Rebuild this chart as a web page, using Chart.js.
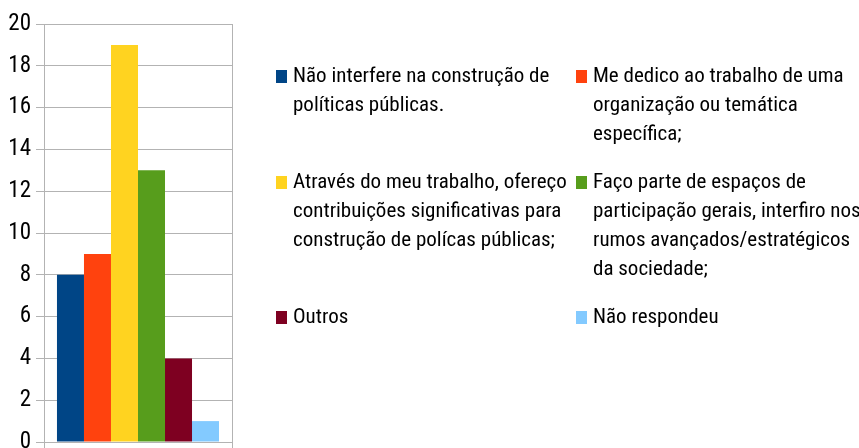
<!DOCTYPE html>
<html>
<head>
<meta charset="utf-8">
<script src="https://cdn.jsdelivr.net/npm/chart.js@4/dist/chart.umd.min.js"></script>
<style>
  html, body { margin: 0; padding: 0; background: #fff; overflow: hidden; }
  #wrap { position: absolute; left: 0; top: 0; width: 859px; height: 470px; }
</style>
</head>
<body>
<div id="wrap"><canvas id="myChart"></canvas></div>
<script>
const categories = [''];
const seriesLabels = [
    ['Não interfere na construção de', 'políticas públicas.'],
    ['Me dedico ao trabalho de uma', 'organização ou temática', 'específica;'],
    ['Através do meu trabalho, ofereço', 'contribuições significativas para', 'construção de polícas públicas;'],
    ['Faço parte de espaços de', 'participação gerais, interfiro nos', 'rumos avançados/estratégicos', 'da sociedade;'],
    ['Outros'],
    ['Não respondeu']
];
const seriesValues = [8, 9, 19, 13, 4, 1];
const yMax = 20;
const yStep = 2;

const colors = ['#004586', '#ff420e', '#ffd320', '#579d1c', '#7e0021', '#83caff'];
const fontFamily = "'Roboto Condensed', 'Liberation Sans Narrow', sans-serif";
const gridColor = '#b3b3b3';

// legend drawn by hand: two columns, wrapped text
const sideLegend = {
    id: 'sideLegend',
    afterDraw(chart) {
        const ctx = chart.ctx;
        const sets = chart.data.datasets;
        const colX = [276, 576];
        const lineH = 29;
        let y = 77;
        ctx.save();
        ctx.font = '21px ' + fontFamily;
        ctx.textBaseline = 'middle';
        for (let i = 0; i < sets.length; i += 2) {
            let rowLines = 0;
            for (let j = 0; j < 2 && i + j < sets.length; j++) {
                const ds = sets[i + j];
                const x = colX[j];
                ctx.fillStyle = ds.backgroundColor;
                ctx.fillRect(x, y - 7, 11, 13);
                ctx.fillStyle = '#000';
                ds.label.forEach((line, k) => ctx.fillText(line, x + 17, y + k * lineH));
                rowLines = Math.max(rowLines, ds.label.length);
            }
            y += rowLines * lineH + 19;
        }
        ctx.restore();
    }
};

const ctx = document.getElementById('myChart');
new Chart(ctx, {
    type: 'bar',
    data: {
        labels: categories,
        datasets: seriesValues.map((v, i) => ({
            label: seriesLabels[i],
            data: [v],
            backgroundColor: colors[i],
            borderWidth: 0,
            barPercentage: 1,
            categoryPercentage: 0.862
        }))
    },
    options: {
        responsive: true,
        maintainAspectRatio: false,
        animation: false,
        layout: { padding: { top: 24, right: 627, bottom: 20, left: 0 } },
        plugins: {
            legend: { display: false },
            tooltip: { enabled: false }
        },
        scales: {
            x: {
                grid: { color: gridColor, offset: true, tickLength: 8 },
                border: { color: gridColor },
                ticks: { display: false },
                afterFit: (scale) => { scale.height = 8; }
            },
            y: {
                min: 0,
                max: yMax,
                ticks: { stepSize: yStep, color: '#000', padding: 5, font: { family: fontFamily, size: 23 } },
                grid: { color: gridColor, tickLength: 8 },
                border: { color: gridColor },
                afterFit: (scale) => { scale.width = 44; }
            }
        }
    },
    plugins: [sideLegend]
});
</script>
</body>
</html>
